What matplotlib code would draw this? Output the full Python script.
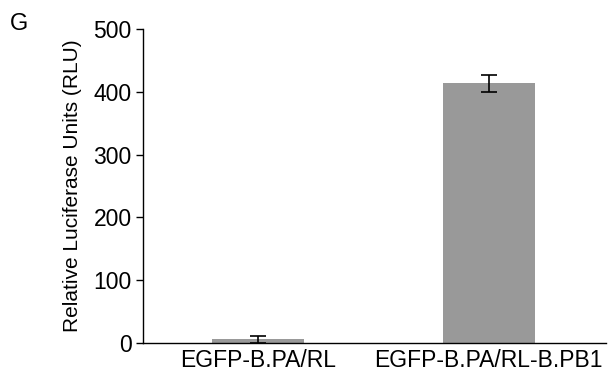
import matplotlib
matplotlib.use("Agg")
import matplotlib.pyplot as plt

categories = ["EGFP-B.PA/RL", "EGFP-B.PA/RL-B.PB1"]
values = [6, 414]
errors = [6, 13.5]
yticks = [0, 100, 200, 300, 400, 500]

plt.rcParams['font.family'] = ['Liberation Sans', 'DejaVu Sans']
fig = plt.figure(figsize=(6.08, 3.77), dpi=100)
ax = fig.add_axes([0.235, 0.090, 0.762, 0.833])
x = list(range(len(categories)))
ax.bar(x, values, width=0.4, color="#999999", zorder=1)
ax.errorbar(x, values, yerr=errors, fmt="none", ecolor="black", elinewidth=1.2,
            capsize=6, capthick=1.2, zorder=2)
ax.set_xlim(-0.5, 1.51)
ax.set_ylim(0, 500)
ax.set_yticks(yticks)
ax.set_xticks(x)
ax.set_xticklabels(categories, fontsize=16.5)
ax.tick_params(axis='x', length=0, pad=4)
ax.tick_params(axis='y', labelsize=16.5, length=5, width=1, direction='out', pad=3)
ax.spines['top'].set_visible(False)
ax.spines['right'].set_visible(False)
ax.spines['left'].set_linewidth(1)
ax.spines['bottom'].set_linewidth(1)
ax.set_ylabel("Relative Luciferase Units (RLU)", fontsize=15, labelpad=8)
fig.text(0.017, 0.92, "G", fontsize=17)
fig.savefig("out.png", dpi=100)
